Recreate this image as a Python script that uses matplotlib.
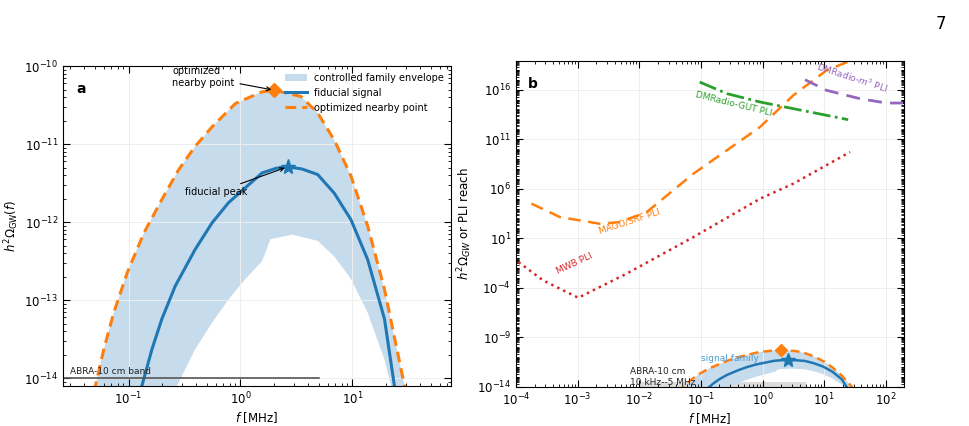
import numpy as np
import matplotlib.pyplot as plt
from matplotlib.ticker import LogLocator, NullFormatter

# ==== DATA (log10 f [MHz], log10 h^2 Omega) ====
fid_lx = [-1.0, -0.881, -0.791, -0.702, -0.583, -0.405, -0.254, -0.106, 0.043, 0.193, 0.32, 0.420,
          0.55, 0.689, 0.838, 0.987, 1.136, 1.286, 1.375, 1.45]
fid_ly = [-14.75, -14.10, -13.63, -13.24, -12.82, -12.35, -12.01, -11.75, -11.56, -11.37, -11.31, -11.29,
          -11.32, -11.39, -11.63, -11.97, -12.48, -13.24, -14.10, -14.75]

opt_lx = [-1.36, -1.296, -1.221, -1.132, -1.012, -0.863, -0.702, -0.553, -0.405, -0.254, -0.045, 0.193,
          0.301, 0.540, 0.689, 0.838, 0.987, 1.136, 1.286, 1.465, 1.52]
opt_ly = [-14.6, -14.10, -13.63, -13.16, -12.65, -12.14, -11.71, -11.33, -11.03, -10.78, -10.48, -10.33,
          -10.31, -10.39, -10.60, -10.95, -11.41, -12.05, -12.86, -14.10, -14.5]

low_lx = [-0.64, -0.568, -0.405, -0.254, -0.106, 0.043, 0.193, 0.267, 0.461, 0.689, 0.838, 0.987,
          1.136, 1.286, 1.345, 1.38]
low_ly = [-14.6, -14.10, -13.63, -13.29, -12.99, -12.73, -12.50, -12.22, -12.16, -12.24, -12.44, -12.73,
          -13.16, -13.76, -14.10, -14.4]

fid_peak = (2.63, 5.1e-12)
opt_peak = (2.0, 4.9e-11)

mago_lx = [-3.75, -3.29, -2.64, -2.31, -1.88, -1.12, -0.58, -0.04, 0.50, 1.04, 1.42, 1.58]
mago_ly = [4.49, 3.14, 2.46, 2.63, 3.64, 7.52, 9.87, 12.23, 15.43, 17.95, 18.9, 19.6]
mwb_lx = [-3.96, -3.56, -2.99, -2.21, -1.12, -0.04, 0.50, 1.42]
mwb_ly = [-1.41, -3.26, -5.01, -2.59, 1.12, 4.99, 6.51, 9.70]
gut_lx = [-1.02, -0.58, -0.04, 0.50, 1.04, 1.39]
gut_ly = [16.77, 15.6, 14.75, 14.08, 13.41, 12.97]
m3_lx = [0.69, 1.04, 1.58, 2.01, 2.28]
m3_ly = [17.0, 15.93, 15.09, 14.65, 14.65]

abra_band = (0.01, 5.0)

C_BLUE = '#1f77b4'
C_ORANGE = '#ff7f0e'
C_FILL = '#c6dcec'


def p(a):
    return 10.0 ** np.array(a)


def style(ax):
    ax.tick_params(which='both', direction='in', top=True, right=True, labelsize=8.5)
    ax.tick_params(which='major', length=5)
    ax.tick_params(which='minor', length=2.5)
    ax.grid(True, color='#eeeeee', lw=0.7)


def draw_family(ax, lw=2.2, ms=(9, 11)):
    px = p(opt_lx + low_lx[::-1])
    py = p(opt_ly + low_ly[::-1])
    ax.fill(px, py, color=C_FILL, lw=0, label='controlled family envelope')
    ax.plot(p(fid_lx), p(fid_ly), color=C_BLUE, lw=lw, label='fiducial signal')
    ax.plot(p(opt_lx), p(opt_ly), color=C_ORANGE, lw=lw, ls=(0, (3.5, 2)), label='optimized nearby point')
    ax.plot(*opt_peak, marker='D', color=C_ORANGE, ms=ms[0] * 0.75)
    ax.plot(*fid_peak, marker='*', color=C_BLUE, ms=ms[1])


fig = plt.figure(figsize=(9.7, 4.26), dpi=100)
fig.text(0.975, 0.965, '7', fontsize=12, ha='right', va='top')

# ---- panel a ----
ax = fig.add_axes([0.065, 0.094, 0.400, 0.751])
draw_family(ax)
ax.plot([0.026, 5.0], [1e-14, 1e-14], color='#555555', lw=1.2)
ax.text(0.03, 1.12e-14, 'ABRA-10 cm band', fontsize=6.5, color='#222222')
ax.set_xscale('log')
ax.set_yscale('log')
ax.set_xlim(0.026, 76)
ax.set_ylim(10 ** -14.1, 1e-10)
ax.annotate('optimized\nnearby point', xy=opt_peak, xytext=(0.245, 5.6e-11), fontsize=7,
            arrowprops=dict(arrowstyle='->', color='black', lw=0.8))
ax.annotate('fiducial peak', xy=fid_peak, xytext=(0.32, 2.2e-12), fontsize=7,
            arrowprops=dict(arrowstyle='->', color='black', lw=0.8))
ax.text(0.035, 0.95, 'a', transform=ax.transAxes, fontsize=10, fontweight='bold', va='top')
ax.legend(loc='upper right', frameon=False, fontsize=7, handlelength=2.2,
          borderaxespad=0.3, labelspacing=0.5)
ax.set_xlabel('$f$ [MHz]', fontsize=8.5, labelpad=2)
ax.set_ylabel(r'$h^2\Omega_{\rm GW}(f)$', fontsize=8.5, labelpad=2)
style(ax)

# ---- panel b ----
bx = fig.add_axes([0.532, 0.092, 0.400, 0.765])
bx.fill_between(list(abra_band), 1e-14, 3e-14, color='#bbbbbb', alpha=0.5, lw=0)
draw_family(bx, lw=1.8, ms=(8, 10))
bx.plot(p(mago_lx), p(mago_ly), color=C_ORANGE, lw=1.8, ls=(0, (5, 3)))
bx.plot(p(mwb_lx), p(mwb_ly), color='#d62728', lw=1.8, ls=':')
bx.plot(p(gut_lx), p(gut_ly), color='#2ca02c', lw=2.0, ls='-.')
bx.plot(p(m3_lx), p(m3_ly), color='#9467bd', lw=2.0, ls=(0, (5, 3)))
bx.text(0.0021, 30, 'MAGO/SRF PLI', color=C_ORANGE, fontsize=6.5, rotation=18)
bx.text(0.00043, 0.0025, 'MWB PLI', color='#d62728', fontsize=6.5, rotation=25)
bx.text(0.08, 2e13, 'DMRadio-GUT PLI', color='#2ca02c', fontsize=6.5, rotation=-14)
bx.text(7, 5e15, 'DMRadio-$m^3$ PLI', color='#9467bd', fontsize=6.5, rotation=-18)
bx.text(0.1, 4e-12, 'signal family', color='#4a9ad4', fontsize=6.5)
bx.text(0.0072, 1.6e-14, 'ABRA-10 cm\n10 kHz--5 MHz', fontsize=6.5, color='#222222')
bx.set_xscale('log')
bx.set_yscale('log')
bx.set_xlim(1e-4, 198)
bx.set_ylim(1e-14, 10 ** 18.9)
bx.set_yticks([10.0 ** k for k in range(-14, 19, 5)])
bx.yaxis.set_minor_locator(LogLocator(base=10, subs=np.arange(1, 10), numticks=400))
bx.yaxis.set_minor_formatter(NullFormatter())
bx.text(0.03, 0.95, 'b', transform=bx.transAxes, fontsize=10, fontweight='bold', va='top')
bx.set_xlabel('$f$ [MHz]', fontsize=8.5, labelpad=2)
bx.set_ylabel(r'$h^2\Omega_{GW}$ or PLI reach', fontsize=8.5, labelpad=2)
style(bx)

fig.savefig('out.png', dpi=100)
